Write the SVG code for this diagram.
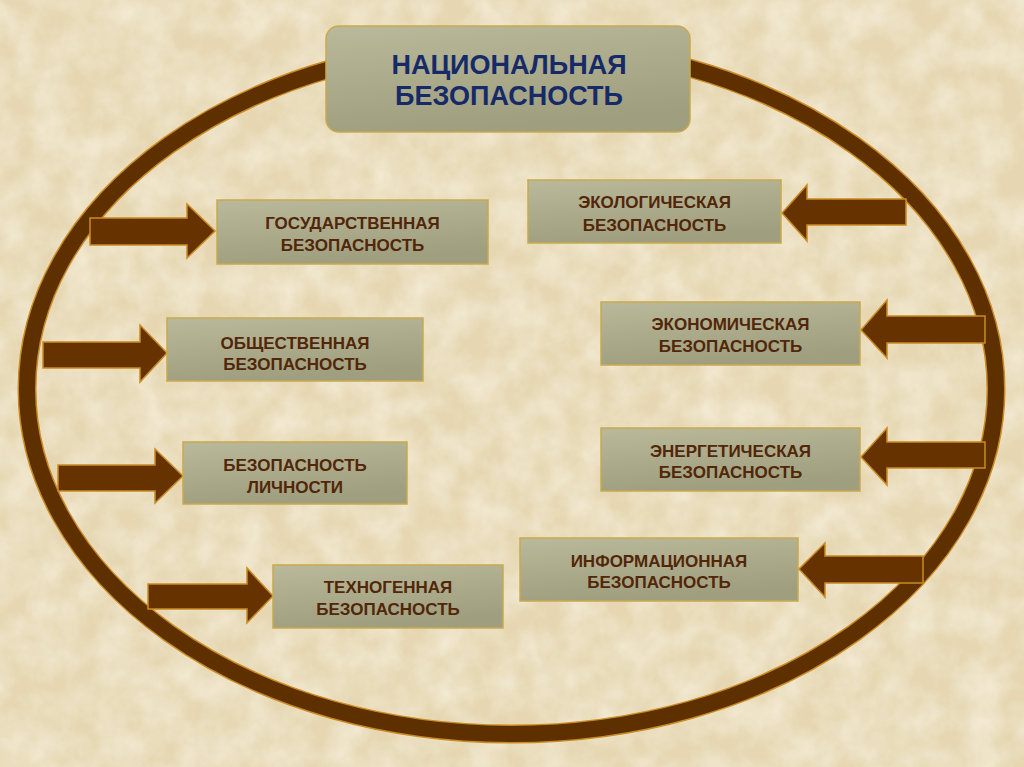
<svg xmlns="http://www.w3.org/2000/svg" width="1024" height="767" viewBox="0 0 1024 767">
  <defs>
    <linearGradient id="boxg" x1="0" y1="0" x2="0.3" y2="1">
      <stop offset="0" stop-color="#b9b99b"/>
      <stop offset="1" stop-color="#9f9f7f"/>
    </linearGradient>
    <filter id="paper" x="0" y="0" width="100%" height="100%">
      <feTurbulence type="fractalNoise" baseFrequency="0.03" numOctaves="4" seed="7" result="n"/>
      <feColorMatrix in="n" type="matrix" values="0 0 0 0 0.95  0 0 0 0 0.91  0 0 0 0 0.79  0 0 0 -1.4 1.0" result="c"/>
      <feComposite in="c" in2="SourceGraphic" operator="in"/>
    </filter>
    <style>
      .box { fill: url(#boxg); stroke: #c9a94e; stroke-width: 1.5; }
      .lbl { font-family: "Liberation Sans", Arial, sans-serif; font-weight: bold; font-size: 17px; fill: #522608; text-anchor: middle; }
      .ttl { font-family: "Liberation Sans", Arial, sans-serif; font-weight: bold; font-size: 27px; fill: #172a68; text-anchor: middle; }
      .arr { fill: #663300; stroke: #c98a22; stroke-width: 1.5; stroke-linejoin: miter; }
    </style>
  </defs>

  <rect x="0" y="0" width="1024" height="767" fill="#e6d7b2"/>
  <rect x="0" y="0" width="1024" height="767" fill="#f3e8cc" filter="url(#paper)" opacity="0.75"/>

  <g id="ring">
    <ellipse cx="511.5" cy="389" rx="484.5" ry="345" fill="none" stroke="#c98a22" stroke-width="19"/>
    <ellipse cx="511.5" cy="389" rx="484.5" ry="345" fill="none" stroke="#5e3000" stroke-width="16"/>
  </g>

  <g id="connectors">
    <polygon class="arr" points="90,218 187,218 187,204 215,231 187,258 187,245 90,245"/>
    <polygon class="arr" points="43,342 140,342 140,325 167,353 140,382 140,368 43,368"/>
    <polygon class="arr" points="58,465 155,465 155,449 183,476 155,503 155,491 58,491"/>
    <polygon class="arr" points="148,584 247,584 247,568 273,596 247,623 247,609 148,609"/>
    <polygon class="arr" points="906,199 807,199 807,185 782,213 807,241 807,225 906,225"/>
    <polygon class="arr" points="985,316 887,316 887,300 861,330 887,358 887,343 985,343"/>
    <polygon class="arr" points="985,442 887,442 887,428 861,457 887,485 887,468 985,468"/>
    <polygon class="arr" points="923,556 825,556 825,543 799,569 825,597 825,583 923,583"/>
  </g>

  <g id="national">
    <rect x="326" y="26" width="364" height="106" rx="13" class="box"/>
    <text class="ttl" x="509" y="74">НАЦИОНАЛЬНАЯ</text>
    <text class="ttl" x="509" y="105">БЕЗОПАСНОСТЬ</text>
  </g>

  <g id="state">
    <rect x="217" y="200" width="271" height="64" class="box"/>
    <text class="lbl" x="352.5" y="229">ГОСУДАРСТВЕННАЯ</text>
    <text class="lbl" x="352.5" y="251">БЕЗОПАСНОСТЬ</text>
  </g>

  <g id="public">
    <rect x="167" y="318" width="256" height="63" class="box"/>
    <text class="lbl" x="295" y="349">ОБЩЕСТВЕННАЯ</text>
    <text class="lbl" x="295" y="370">БЕЗОПАСНОСТЬ</text>
  </g>

  <g id="personal">
    <rect x="183" y="442" width="224" height="62" class="box"/>
    <text class="lbl" x="295" y="471">БЕЗОПАСНОСТЬ</text>
    <text class="lbl" x="295" y="493">ЛИЧНОСТИ</text>
  </g>

  <g id="technogenic">
    <rect x="273" y="565" width="230" height="63" class="box"/>
    <text class="lbl" x="388" y="593">ТЕХНОГЕННАЯ</text>
    <text class="lbl" x="388" y="615">БЕЗОПАСНОСТЬ</text>
  </g>

  <g id="ecological">
    <rect x="528" y="180" width="253" height="63" class="box"/>
    <text class="lbl" x="654.5" y="208">ЭКОЛОГИЧЕСКАЯ</text>
    <text class="lbl" x="654.5" y="231">БЕЗОПАСНОСТЬ</text>
  </g>

  <g id="economic">
    <rect x="601" y="302" width="259" height="63" class="box"/>
    <text class="lbl" x="730.5" y="330">ЭКОНОМИЧЕСКАЯ</text>
    <text class="lbl" x="730.5" y="352">БЕЗОПАСНОСТЬ</text>
  </g>

  <g id="energy">
    <rect x="601" y="428" width="259" height="63" class="box"/>
    <text class="lbl" x="730.5" y="457">ЭНЕРГЕТИЧЕСКАЯ</text>
    <text class="lbl" x="730.5" y="478">БЕЗОПАСНОСТЬ</text>
  </g>

  <g id="information">
    <rect x="520" y="538" width="278" height="63" class="box"/>
    <text class="lbl" x="659" y="567">ИНФОРМАЦИОННАЯ</text>
    <text class="lbl" x="659" y="588">БЕЗОПАСНОСТЬ</text>
  </g>
</svg>
